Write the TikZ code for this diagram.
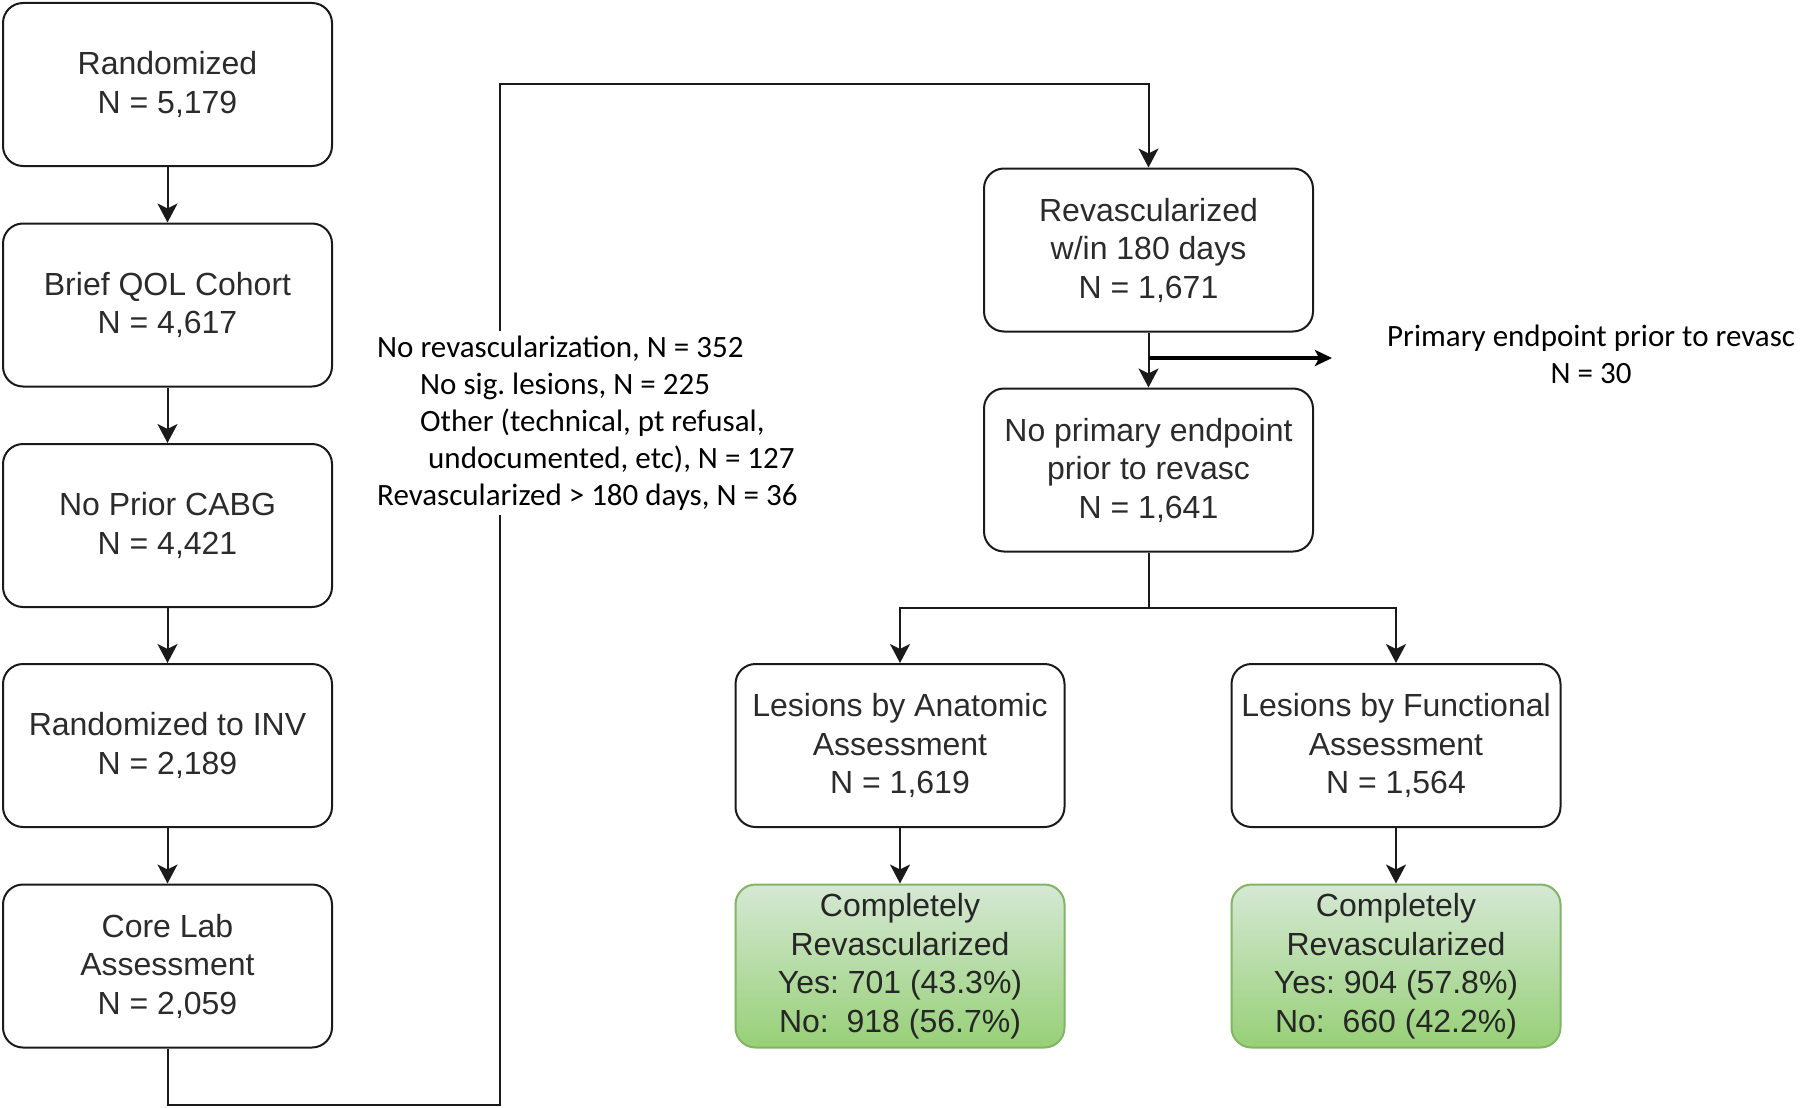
\documentclass[tikz,border=0pt]{standalone}
\usepackage{fontspec}
\setmainfont{Liberation Sans}
\newfontfamily\calfont{Carlito}
\usetikzlibrary{arrows.meta}
\definecolor{txt}{HTML}{2B2B2B}
\definecolor{edge}{HTML}{1A1A1A}
\definecolor{gtop}{HTML}{D5E8D4}
\definecolor{gbot}{HTML}{97D077}
\definecolor{gline}{HTML}{82B366}
\frenchspacing
\begin{document}
\begin{tikzpicture}[x=1pt,y=-1pt,
  box/.style={draw=edge, line width=2pt, rounded corners=20pt, minimum width=329pt, minimum height=163pt, align=center, text=txt, font=\fontsize{32}{38.5}\selectfont, inner sep=0pt},
  gbox/.style={box, draw=gline, top color=gtop, bottom color=gbot, text=black!85},
  arr/.style={draw=edge, line width=2pt, -{Stealth[length=19pt,width=20pt,inset=5pt]}},
  thickarr/.style={draw=black, line width=4pt, -{Stealth[length=17pt,width=16pt,inset=4pt]}},
  lbl/.style={font=\calfont\fontsize{31}{37}\selectfont, text=black, inner sep=0pt}
]
\useasboundingbox (0,0) rectangle (1800,1108);

\node[box] (b1) at (167.5,84.5) {Randomized\\N = 5,179};
\node[box] (b2) at (167.5,305) {Brief QOL Cohort\\N = 4,617};
\node[box] (b3) at (167.5,525.5) {No Prior CABG\\N = 4,421};
\node[box] (b4) at (167.5,745.5) {Randomized to INV\\N = 2,189};
\node[box] (b5) at (167.5,966) {Core Lab\\Assessment\\N = 2,059};
\node[box] (rv) at (1148.5,250) {Revascularized\\w/in 180 days\\N = 1,671};
\node[box] (np) at (1148.5,470) {No primary endpoint\\prior to revasc\\N = 1,641};
\node[box] (la) at (900,745.5) {Lesions by Anatomic\\Assessment\\N = 1,619};
\node[box] (lf) at (1396,745.5) {Lesions by Functional\\Assessment\\N = 1,564};
\node[gbox] (ca) at (900,966) {Completely\\Revascularized\\Yes: 701 (43.3\%)\\No:\ \ 918 (56.7\%)};
\node[gbox] (cf) at (1396,966) {Completely\\Revascularized\\Yes: 904 (57.8\%)\\No:\ \ 660 (42.2\%)};

\draw[arr] (b1) -- (b2);
\draw[arr] (b2) -- (b3);
\draw[arr] (b3) -- (b4);
\draw[arr] (b4) -- (b5);

\coordinate (c1) at (500,1105);
\coordinate (c2) at (500,84);
\draw[arr] (b5.south) |- (c1) -- (c2) -| (rv.north);

\node[lbl, fill=white, align=left, anchor=west, inner ysep=5pt] (ex) at (377,423)
  {No revascularization, N = 352\\
   \hspace*{43pt}No sig. lesions, N = 225\\
   \hspace*{43pt}Other (technical, pt refusal,\\
   \hspace*{51pt}undocumented, etc), N = 127\\
   Revascularized > 180 days, N = 36};

\draw[arr] (rv) -- (np);
\coordinate (petip) at (1332,358);
\draw[thickarr] (rv.south |- petip) -- (petip);
\node[lbl, align=center, anchor=west] (pe) at (1387,354) {Primary endpoint prior to revasc\\N = 30};

\draw[arr] (np.south) -- ++(0,55) coordinate (br) -| (la.north);
\draw[arr] (br) -| (lf.north);
\draw[arr] (la) -- (ca);
\draw[arr] (lf) -- (cf);
\end{tikzpicture}
\end{document}
